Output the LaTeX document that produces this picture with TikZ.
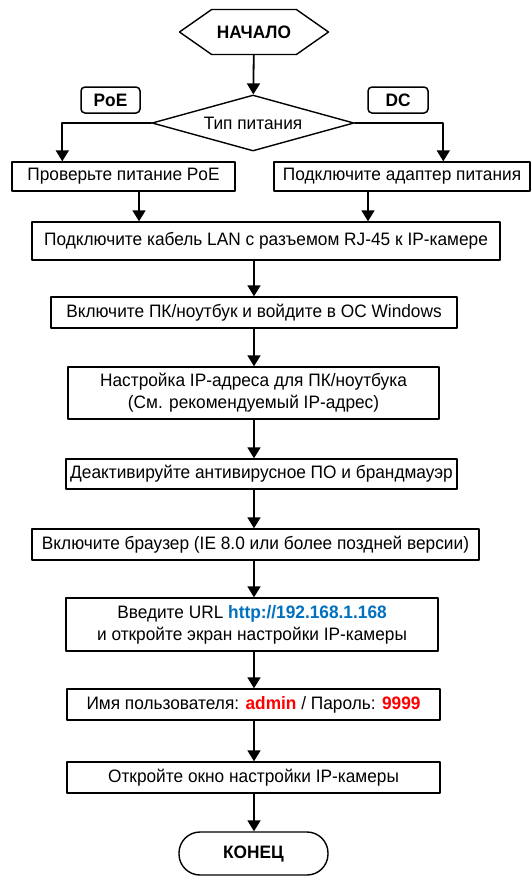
\documentclass[tikz,border=0pt]{standalone}
\usepackage{fontspec}
\setmainfont{Liberation Sans}[FakeStretch=0.96]
\usetikzlibrary{arrows.meta}
\usetikzlibrary{shapes.geometric}
\usetikzlibrary{shapes.symbols}
\definecolor{urlblue}{RGB}{0,112,192}
\definecolor{pwred}{RGB}{255,0,0}
\tikzset{
  stepbox/.style={draw,line width=1.4pt,inner sep=0pt,align=center},
  tagbox/.style={draw,line width=1.5pt,rounded corners=4pt,inner sep=0pt,font=\fontsize{18}{22}\selectfont\bfseries},
  flowline/.style={line width=1.8pt}
}
\begin{document}
\begin{tikzpicture}[line cap=round,line join=round,>={Triangle[width=13pt,length=11pt]},x=1pt,y=-1pt,font=\fontsize{18}{22}\selectfont]
\useasboundingbox (0,0) rectangle (531,876);
\node[draw,line width=1.4pt,signal,signal to=west and east,signal pointer angle=70,minimum width=149pt,minimum height=45pt,inner sep=0pt] (start) at (254,32) {\bfseries НАЧАЛО};
\node[draw,line width=1.4pt,diamond,aspect=3.6,minimum width=202pt,minimum height=56pt,inner sep=0pt] (type) at (253,123) {Тип питания};
\node[tagbox,minimum width=59pt,minimum height=26pt] (poetag) at (110.5,100) {PoE};
\node[tagbox,minimum width=60pt,minimum height=26pt] (dctag) at (398,100) {DC};
\node[stepbox,minimum width=223pt,minimum height=29pt] (poebox) at (123.5,176.5) {Проверьте питание PoE};
\node[stepbox,minimum width=256pt,minimum height=29pt] (dcbox) at (402,176.5) {Подключите адаптер питания};
\node[stepbox,minimum width=468pt,minimum height=38pt] (lan) at (266,241) {Подключите кабель LAN с разъемом RJ-45 к IP-камере};
\node[stepbox,minimum width=406pt,minimum height=31pt] (win) at (254,312.5) {Включите ПК/ноутбук и войдите в ОС Windows};
\node[stepbox,minimum width=371pt,minimum height=52pt] (ipaddr) at (253.5,393) {Настройка IP-адреса для ПК/ноутбука\\(См. рекомендуемый IP-адрес)};
\node[stepbox,minimum width=391pt,minimum height=30pt] (av) at (261.5,474) {Деактивируйте антивирусное ПО и брандмауэр};
\node[stepbox,minimum width=447pt,minimum height=31pt] (browser) at (255.5,544.5) {Включите браузер (IE 8.0 или более поздней версии)};
\node[stepbox,minimum width=372pt,minimum height=53pt] (url) at (252,624.5) {Введите URL \textcolor{urlblue}{\bfseries http://192.168.1.168}\\и откройте экран настройки IP-камеры};
\node[stepbox,minimum width=373pt,minimum height=31pt] (user) at (253.5,704.5) {Имя пользователя: \textcolor{pwred}{\bfseries admin} / Пароль: \textcolor{pwred}{\bfseries 9999}};
\node[stepbox,minimum width=373pt,minimum height=31pt] (open) at (253.5,777.5) {Откройте окно настройки IP-камеры};
\node[draw,line width=1.4pt,rounded corners=21pt,minimum width=149pt,minimum height=43pt,inner sep=0pt] (finish) at (253.5,853.5) {\bfseries КОНЕЦ};
\draw[flowline,->] (start) -- (type);
\draw[flowline,->] (type.west) -| ([xshift=51pt]poebox.north west);
\draw[flowline,->] (type.east) -| ([xshift=170pt]dcbox.north west);
\draw[flowline,->] ([xshift=15.5pt]poebox.south) -- ([xshift=15.5pt]poebox.south |- lan.north);
\draw[flowline,->] ([xshift=-34pt]dcbox.south) -- ([xshift=-34pt]dcbox.south |- lan.north);
\foreach \a/\b in {lan/win,win/ipaddr,ipaddr/av,av/browser,browser/url,url/user,user/open,open/finish}
\draw[flowline,->] (\a.south -| start) -- (\b.north -| start);
\end{tikzpicture}
\end{document}
